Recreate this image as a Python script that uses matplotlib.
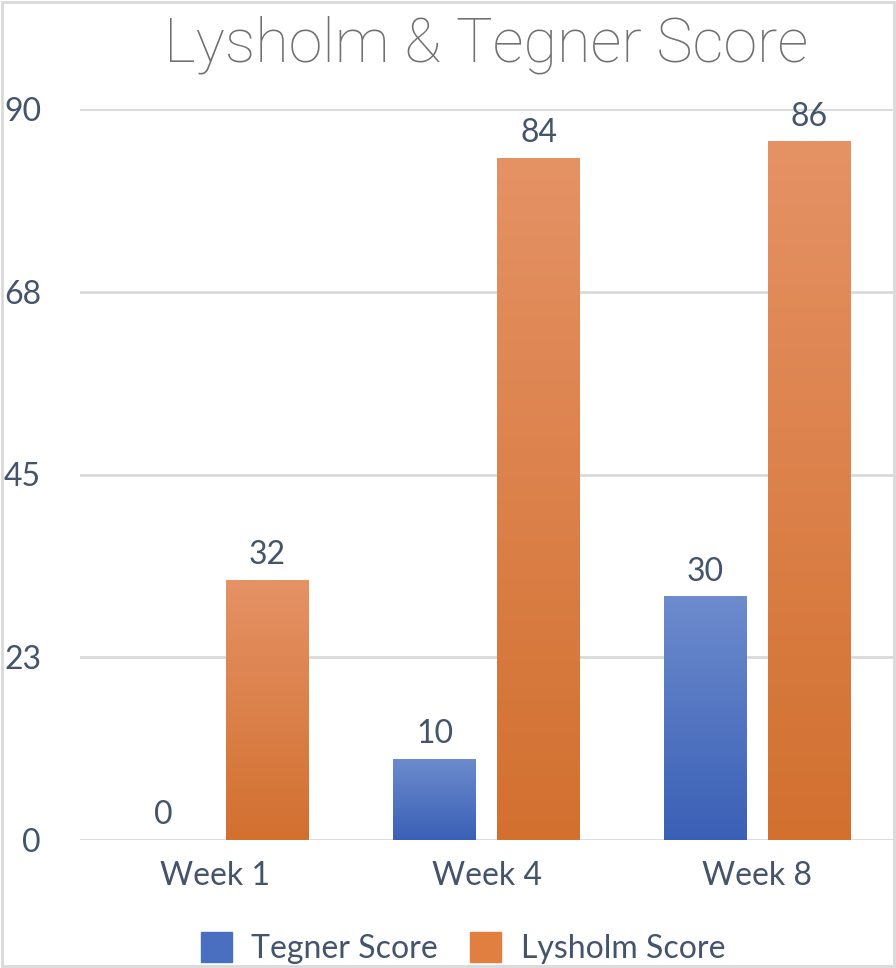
import numpy as np
import matplotlib.pyplot as plt
from matplotlib.colors import LinearSegmentedColormap
from matplotlib.patches import Rectangle

# data
weeks = ["Week 1", "Week 4", "Week 8"]
tegner = [0, 10, 30]
lysholm = [32, 84, 86]
ytick_vals = [0, 22.5, 45, 67.5, 90]
ytick_labels = ["0", "23", "45", "68", "90"]

txt_color = "#44546a"
font = "Lato"
fs = 23

fig = plt.figure(figsize=(8.96, 9.68), dpi=100)
W, H = 896, 968
# plot area: x 80..893 px, y 109..840 px
ax = fig.add_axes([80 / W, 1 - 840 / H, (893 - 80) / W, (840 - 109) / H])

x = np.arange(len(weeks))
bw = 0.306
off = 0.192

blue_cm = LinearSegmentedColormap.from_list("b", ["#3a60b6", "#6d8bcd"])
orange_cm = LinearSegmentedColormap.from_list("o", ["#d2702f", "#e59265"])
grad = np.linspace(0, 1, 256).reshape(-1, 1)


def gradient_bars(xs, vals, cmap):
    bars = ax.bar(xs, vals, bw, color="none", edgecolor="none", zorder=3)
    for b in bars:
        h = b.get_height()
        if h <= 0:
            continue
        x0 = b.get_x()
        im = ax.imshow(grad, cmap=cmap, origin="lower", aspect="auto",
                       extent=[x0, x0 + bw, 0, h], zorder=3)
        im.set_clip_path(b)
    return bars


gradient_bars(x - off, tegner, blue_cm)
gradient_bars(x + off, lysholm, orange_cm)
ax.set_xlim(-0.5, 2.5)
ax.set_ylim(0, 90)

for xi, v in zip(x - off, tegner):
    ax.annotate(str(v), (xi, v), xytext=(0, 7), textcoords="offset points",
                ha="center", va="bottom", fontsize=fs, color=txt_color, family=font)
for xi, v in zip(x + off, lysholm):
    ax.annotate(str(v), (xi, v), xytext=(0, 7), textcoords="offset points",
                ha="center", va="bottom", fontsize=fs, color=txt_color, family=font)

ax.set_yticks(ytick_vals)
ax.set_yticklabels(ytick_labels)
ax.set_xticks(x)
ax.set_xticklabels(weeks)
ax.tick_params(length=0, labelsize=fs, labelcolor=txt_color)
ax.tick_params(axis="y", pad=28)
ax.tick_params(axis="x", pad=15)
for lab in ax.get_xticklabels() + ax.get_yticklabels():
    lab.set_family(font)
ax.grid(axis="y", color="#d9d9d9", linewidth=2, zorder=0)
ax.set_axisbelow(True)
for s in ax.spines.values():
    s.set_visible(False)

fig.text(486 / W, 1 - 62 / H, "Lysholm & Tegner Score", ha="center", va="baseline",
         fontsize=44, color="#707070", family="Roboto", weight="light")

# legend
handles = [Rectangle((0, 0), 1, 1, color="#4a6fc0"), Rectangle((0, 0), 1, 1, color="#e07f40")]
fig.legend(handles, ["Tegner Score", "Lysholm Score"], loc="center",
           bbox_to_anchor=(463 / W, 1 - 948 / H), ncol=2, frameon=False,
           prop={"family": font, "size": fs}, labelcolor=txt_color,
           handlelength=0.97, handleheight=1.05, columnspacing=1.0, handletextpad=0.62)

fig.patches.append(Rectangle((0.002, 0.002), 0.996, 0.996, transform=fig.transFigure,
                             fill=False, edgecolor="#d9d9d9", linewidth=2))

fig.savefig("out.png", dpi=100)
